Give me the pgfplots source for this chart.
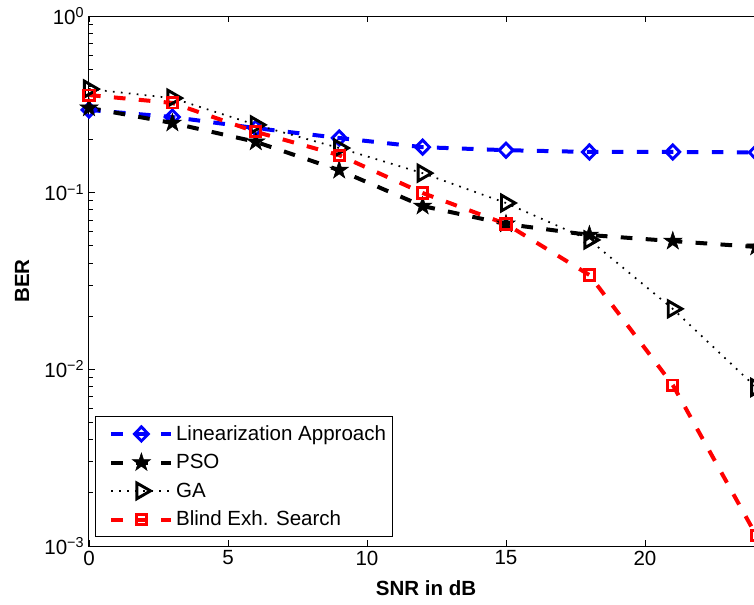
\documentclass[border=0pt]{standalone}
\usepackage{fontspec}
\setmainfont{Liberation Sans}
\usepackage{pgfplots}
\pgfplotsset{compat=1.18}

\pgfdeclareplotmark{fstar}{%
\pgfpathmoveto{\pgfpointpolar{90}{\pgfplotmarksize}}%
\pgfpathlineto{\pgfpointpolar{126}{0.382\pgfplotmarksize}}%
\pgfpathlineto{\pgfpointpolar{162}{\pgfplotmarksize}}%
\pgfpathlineto{\pgfpointpolar{198}{0.382\pgfplotmarksize}}%
\pgfpathlineto{\pgfpointpolar{234}{\pgfplotmarksize}}%
\pgfpathlineto{\pgfpointpolar{270}{0.382\pgfplotmarksize}}%
\pgfpathlineto{\pgfpointpolar{306}{\pgfplotmarksize}}%
\pgfpathlineto{\pgfpointpolar{342}{0.382\pgfplotmarksize}}%
\pgfpathlineto{\pgfpointpolar{18}{\pgfplotmarksize}}%
\pgfpathlineto{\pgfpointpolar{54}{0.382\pgfplotmarksize}}%
\pgfpathclose\pgfusepathqfillstroke}

\newcommand{\fs}{\fontsize{15.4}{18}\selectfont}

\begin{document}
\begin{tikzpicture}
\begin{axis}[
  name=ax,
  scale only axis,
  width=521.25pt, height=397.5pt,
  xmode=linear, ymode=log,
  xmin=0, xmax=25, ymin=1e-3, ymax=1,
  xtick={0,5,10,15,20}, xticklabels={0,5,10,15,20},
  ytick={1e-3,1e-2,1e-1,1},
  yticklabels={10\textsuperscript{−3},10\textsuperscript{−2},10\textsuperscript{−1},10\textsuperscript{0}},
  tick align=inside,
  axis line style={line width=0.75pt},
  every tick/.style={black,line width=0.6pt},
  tick label style={font=\fs},
  xlabel={SNR in dB}, ylabel={BER},
  every axis x label/.style={at={(axis description cs:0.485,-0.0802)},anchor=center,font=\fs\bfseries},
  every axis y label/.style={at={(axis description cs:-0.0964,0.5)},rotate=90,anchor=center,font=\fs\bfseries},
  legend style={at={(0,0)},anchor=south west,xshift=4.5pt,yshift=6.75pt,font=\fs,draw=black,line width=0.6pt,row sep=5pt,inner ysep=4.5pt},
  legend cell align=left,
  legend image code/.code={\path (0pt,0pt); \draw[mark repeat=2,mark phase=2,#1] plot coordinates {(7.5pt,0pt) (30pt,0pt) (52.5pt,0pt)};},
]
\addplot[blue,line width=3pt,dash pattern=on 8.75pt off 10pt,mark=diamond,mark size=5.3pt,
  mark options={solid,line width=2.2pt,xscale=1.3,fill=white}]
  coordinates {(0,0.294) (3,0.268) (6,0.232) (9,0.204) (12,0.181) (15,0.174) (18,0.170) (21,0.170) (24,0.169)};
\addlegendentry{Linearization Approach}
\addplot[black,line width=3pt,dash pattern=on 8.75pt off 10pt,mark=fstar,mark size=7.2pt,
  mark options={solid,line width=0.4pt,fill=black}]
  coordinates {(0,0.302) (3,0.248) (6,0.194) (9,0.134) (12,0.084) (15,0.0665) (18,0.0576) (21,0.0532) (24,0.0493)};
\addlegendentry{PSO}
\addplot[black,line width=1.3pt,dash pattern=on 1.3pt off 4.7pt,mark=triangle,mark size=6.8pt,
  mark options={solid,line width=2.2pt,rotate=-90,fill=white}]
  coordinates {(0,0.386) (3,0.343) (6,0.242) (9,0.179) (12,0.129) (15,0.0874) (18,0.054) (21,0.022) (24,0.0079)};
\addlegendentry{GA}
\addplot[red,line width=3pt,dash pattern=on 8.75pt off 10pt,mark=square,mark size=3.8pt,
  mark options={solid,line width=2.2pt,fill=white}]
  coordinates {(0,0.357) (3,0.322) (6,0.221) (9,0.163) (12,0.0996) (15,0.0665) (18,0.0342) (21,0.00815) (24,0.00115)};
\addlegendentry{Blind Exh. Search}
\end{axis}
\pgfresetboundingbox
\path[use as bounding box] ([shift={(-66.75pt,-43.5pt)}]ax.south west) rectangle ([shift={(498.75pt,409.5pt)}]ax.south west);
\end{tikzpicture}
\end{document}
